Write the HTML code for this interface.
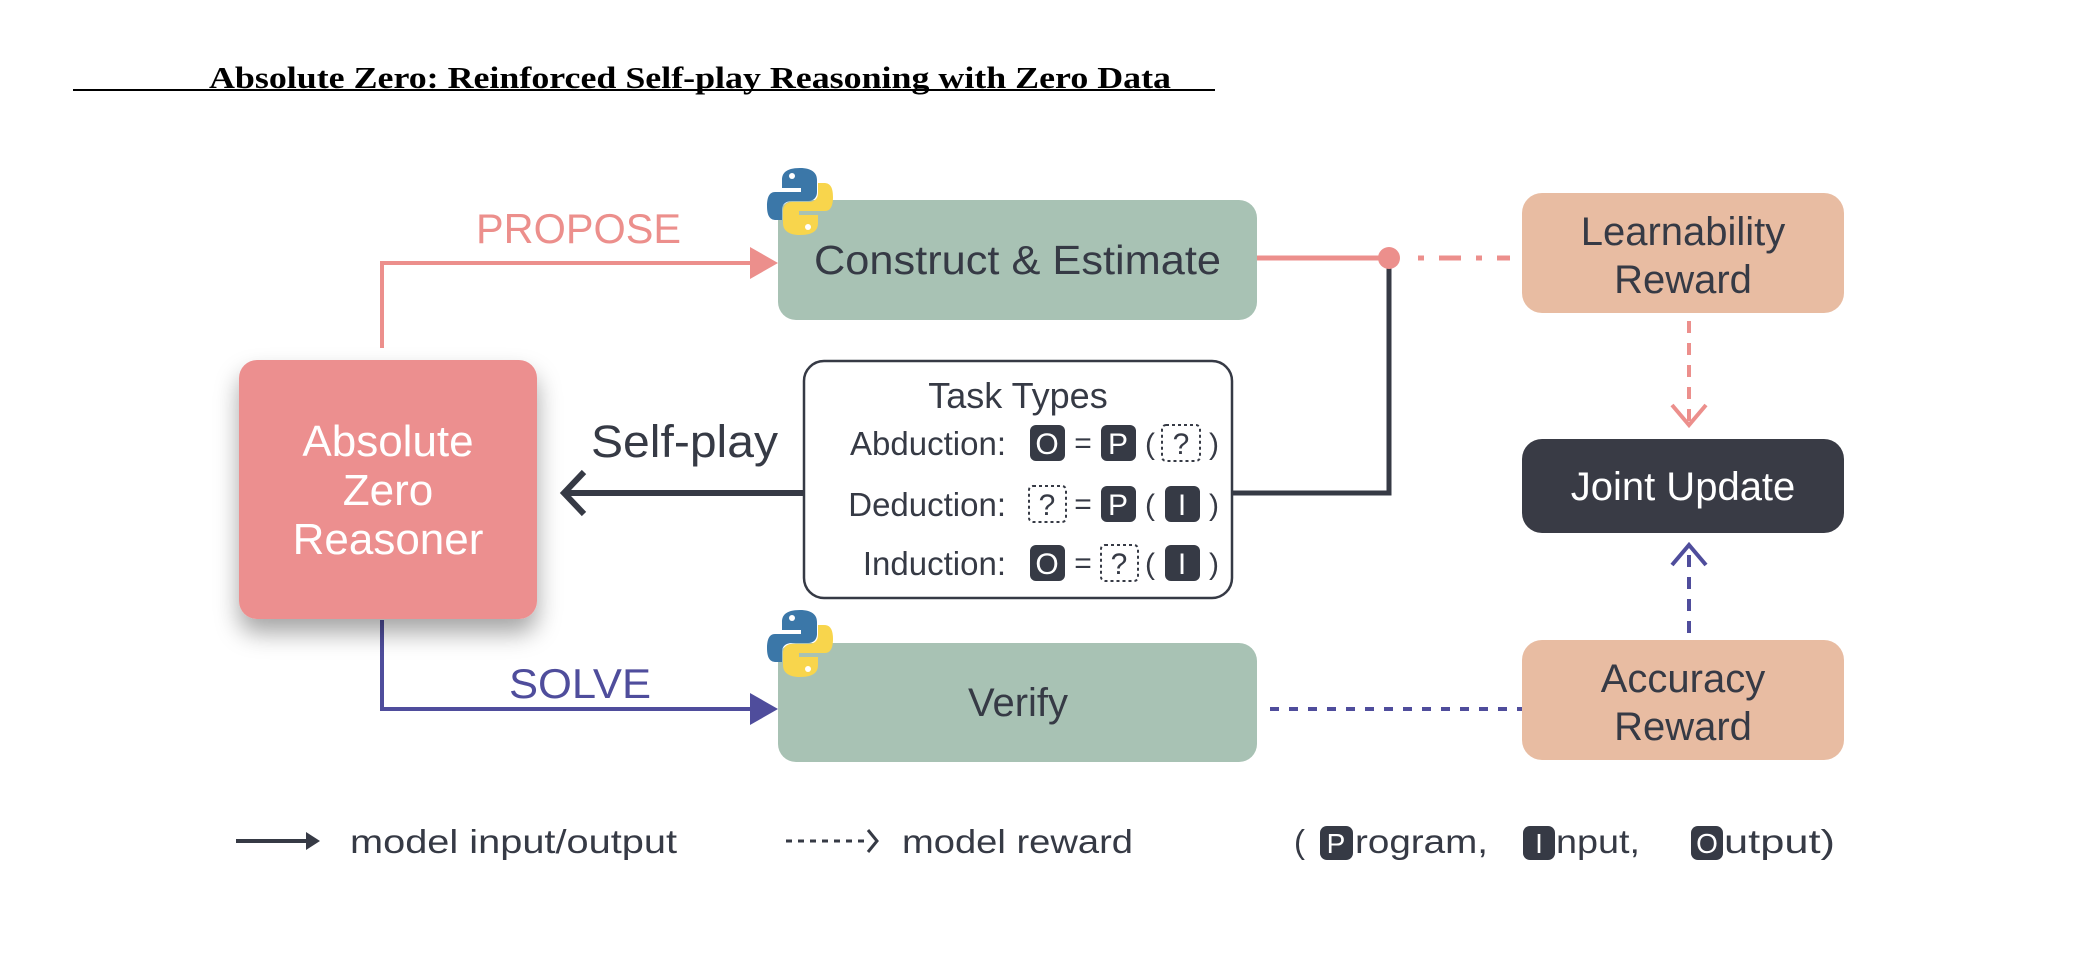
<!DOCTYPE html>
<html><head><meta charset="utf-8"><style>
html,body{margin:0;padding:0;background:#fff;}
svg{display:block;}
.s{font-family:"Liberation Sans","DejaVu Sans",sans-serif;}
</style></head><body>
<svg width="2074" height="966" viewBox="0 0 2074 966" xmlns="http://www.w3.org/2000/svg">
<defs>
<filter id="sh" x="-30%" y="-30%" width="160%" height="170%"><feDropShadow dx="0" dy="14" stdDeviation="12" flood-color="#000" flood-opacity="0.35"/></filter>
<g id="py">
<path d="M33 0 C18 0 15 6 15 12 V20 H34 V24 H8 C2 24 0 30 0 38 C0 48 3 52 9 52 H15 V42 C15 36 19 33 25 33 H41 C47 33 50 29 50 24 V12 C50 5 45 0 33 0Z" fill="#3b77a8"/>
<circle cx="25" cy="8" r="3" fill="#fff"/>
<path d="M33 67 C48 67 51 61 51 55 V47 H32 V43 H58 C64 43 66 37 66 29 C66 19 63 15 57 15 H51 V25 C51 31 47 34 41 34 H25 C19 34 16 38 16 43 V55 C16 62 21 67 33 67Z" fill="#f8d54c"/>
<circle cx="41" cy="59" r="3" fill="#fff"/>
</g>
</defs>

<!-- title -->
<text x="209" y="88" textLength="962" lengthAdjust="spacingAndGlyphs" font-family="Liberation Serif,serif" font-weight="bold" font-size="31" fill="#000">Absolute Zero: Reinforced Self-play Reasoning with Zero Data</text>
<line x1="73" y1="90" x2="1215" y2="90" stroke="#000" stroke-width="2"/>

<!-- pink propose line -->
<polyline points="382,348 382,263 752,263" fill="none" stroke="#ec8f8c" stroke-width="4"/>
<polygon points="750,247 778,263 750,279" fill="#ec8f8c"/>
<text class="s" x="476" y="243" textLength="205" lengthAdjust="spacingAndGlyphs" font-size="42" fill="#ec8f8c">PROPOSE</text>

<!-- blue solve line -->
<polyline points="382,620 382,709 752,709" fill="none" stroke="#4f4d9c" stroke-width="4"/>
<polygon points="750,693 778,709 750,725" fill="#4f4d9c"/>
<text class="s" x="509" y="698" textLength="142" lengthAdjust="spacingAndGlyphs" font-size="42" fill="#4f4d9c">SOLVE</text>

<!-- AZR box -->
<rect x="239" y="360" width="298" height="259" rx="18" fill="#ec8f8f" filter="url(#sh)"/>
<g class="s" font-size="44" fill="#fff" text-anchor="middle">
<text x="388" y="456">Absolute</text>
<text x="388" y="505">Zero</text>
<text x="388" y="554">Reasoner</text>
</g>

<!-- Construct box -->
<rect x="778" y="200" width="479" height="120" rx="18" fill="#a8c2b4"/>
<text class="s" x="814" y="274" textLength="407" lengthAdjust="spacingAndGlyphs" font-size="41" fill="#363a45">Construct &amp; Estimate</text>
<use href="#py" x="767" y="168"/>

<!-- Verify box -->
<rect x="778" y="643" width="479" height="119" rx="18" fill="#a8c2b4"/>
<text class="s" x="1018" y="716" text-anchor="middle" font-size="40" fill="#363a45">Verify</text>
<use href="#py" x="767" y="610"/>

<!-- self-play arrow -->
<line x1="804" y1="493" x2="566" y2="493" stroke="#363a45" stroke-width="6"/>
<polyline points="584,472 564,493 584,514" fill="none" stroke="#363a45" stroke-width="6"/>
<text class="s" x="591" y="457" textLength="187" lengthAdjust="spacingAndGlyphs" font-size="45" fill="#363a45">Self-play</text>

<!-- task box -->
<rect x="804" y="361" width="428" height="237" rx="20" fill="#fff" stroke="#363a45" stroke-width="2.5"/>
<text class="s" x="1018" y="408" text-anchor="middle" font-size="36" fill="#363a45">Task Types</text>
<g class="s" font-size="33" fill="#363a45" text-anchor="end">
<text x="1006" y="455">Abduction:</text>
<text x="1006" y="516">Deduction:</text>
<text x="1006" y="575">Induction:</text>
</g>
<g class="s" font-size="30" text-anchor="middle">
<rect x="1030" y="425" width="35" height="36" rx="6" fill="#363a45"/><text x="1047" y="454" fill="#fff">O</text>
<text x="1083" y="453" fill="#363a45">=</text>
<rect x="1101" y="425" width="35" height="36" rx="6" fill="#363a45"/><text x="1118" y="454" fill="#fff">P</text>
<text x="1150" y="454" fill="#363a45">(</text>
<rect x="1162" y="425" width="38" height="36" rx="4" fill="none" stroke="#363a45" stroke-width="2" stroke-dasharray="3,3"/><text x="1181" y="454" fill="#363a45">?</text>
<text x="1214" y="454" fill="#363a45">)</text>
<rect x="1029" y="486" width="37" height="36" rx="4" fill="none" stroke="#363a45" stroke-width="2" stroke-dasharray="3,3"/><text x="1047" y="515" fill="#363a45">?</text>
<text x="1083" y="514" fill="#363a45">=</text>
<rect x="1101" y="486" width="35" height="36" rx="6" fill="#363a45"/><text x="1118" y="515" fill="#fff">P</text>
<text x="1150" y="515" fill="#363a45">(</text>
<rect x="1165" y="486" width="35" height="36" rx="6" fill="#363a45"/><text x="1182" y="515" fill="#fff">I</text>
<text x="1214" y="515" fill="#363a45">)</text>
<rect x="1030" y="545" width="35" height="36" rx="6" fill="#363a45"/><text x="1047" y="574" fill="#fff">O</text>
<text x="1083" y="573" fill="#363a45">=</text>
<rect x="1101" y="545" width="37" height="36" rx="4" fill="none" stroke="#363a45" stroke-width="2" stroke-dasharray="3,3"/><text x="1119" y="574" fill="#363a45">?</text>
<text x="1150" y="574" fill="#363a45">(</text>
<rect x="1165" y="545" width="35" height="36" rx="6" fill="#363a45"/><text x="1182" y="574" fill="#fff">I</text>
<text x="1214" y="574" fill="#363a45">)</text>
</g>

<!-- right connectors -->
<polyline points="1233,493 1389,493 1389,258" fill="none" stroke="#363a45" stroke-width="5"/>
<line x1="1257" y1="258" x2="1389" y2="258" stroke="#ec8f8c" stroke-width="5"/>
<circle cx="1389" cy="258" r="11" fill="#ec8f8c"/>
<line x1="1418" y1="258" x2="1510" y2="258" stroke="#ec8f8c" stroke-width="5" stroke-dasharray="6,15,22,15"/>

<!-- reward boxes -->
<rect x="1522" y="193" width="322" height="120" rx="20" fill="#e8bca2"/>
<g class="s" font-size="40" fill="#363a45" text-anchor="middle">
<text x="1683" y="245">Learnability</text>
<text x="1683" y="293">Reward</text>
</g>
<rect x="1522" y="439" width="322" height="94" rx="20" fill="#393b45"/>
<text class="s" x="1683" y="500" text-anchor="middle" font-size="40" fill="#fff">Joint Update</text>
<rect x="1522" y="640" width="322" height="120" rx="20" fill="#e8bca2"/>
<g class="s" font-size="40" fill="#363a45" text-anchor="middle">
<text x="1683" y="692">Accuracy</text>
<text x="1683" y="740">Reward</text>
</g>

<line x1="1689" y1="321" x2="1689" y2="424" stroke="#ec8f8c" stroke-width="4" stroke-dasharray="12,10"/>
<polyline points="1672,405 1689,425 1706,405" fill="none" stroke="#ec8f8c" stroke-width="4"/>
<line x1="1689" y1="633" x2="1689" y2="545" stroke="#4f4d9c" stroke-width="4" stroke-dasharray="12,10"/>
<polyline points="1672,565 1689,545 1706,565" fill="none" stroke="#4f4d9c" stroke-width="4"/>
<line x1="1270" y1="709" x2="1522" y2="709" stroke="#4f4d9c" stroke-width="4" stroke-dasharray="9,10"/>

<!-- legend -->
<line x1="236" y1="841" x2="312" y2="841" stroke="#363a45" stroke-width="4"/>
<polygon points="306,832 320,841 306,850" fill="#363a45"/>
<g class="s" font-size="33" fill="#363a45">
<text x="350" y="853" textLength="327" lengthAdjust="spacingAndGlyphs">model input/output</text>
<text x="902" y="853" textLength="231" lengthAdjust="spacingAndGlyphs">model reward</text>
<text x="1294" y="853">(</text>
<text x="1355" y="853" textLength="133" lengthAdjust="spacingAndGlyphs">rogram,</text>
<text x="1556" y="853" textLength="84" lengthAdjust="spacingAndGlyphs">nput,</text>
<text x="1724" y="853" textLength="111" lengthAdjust="spacingAndGlyphs">utput)</text>
</g>
<line x1="786" y1="841" x2="866" y2="841" stroke="#363a45" stroke-width="3" stroke-dasharray="6,6"/>
<polyline points="868,830 877,841 868,852" fill="none" stroke="#363a45" stroke-width="3"/>
<g class="s" font-size="28" fill="#fff" text-anchor="middle">
<rect x="1320" y="826" width="33" height="34" rx="7" fill="#363a45"/><text x="1336" y="853">P</text>
<rect x="1523" y="826" width="32" height="34" rx="7" fill="#363a45"/><text x="1539" y="853">I</text>
<rect x="1691" y="826" width="32" height="34" rx="7" fill="#363a45"/><text x="1707" y="853">O</text>
</g>
</svg>
</body></html>
